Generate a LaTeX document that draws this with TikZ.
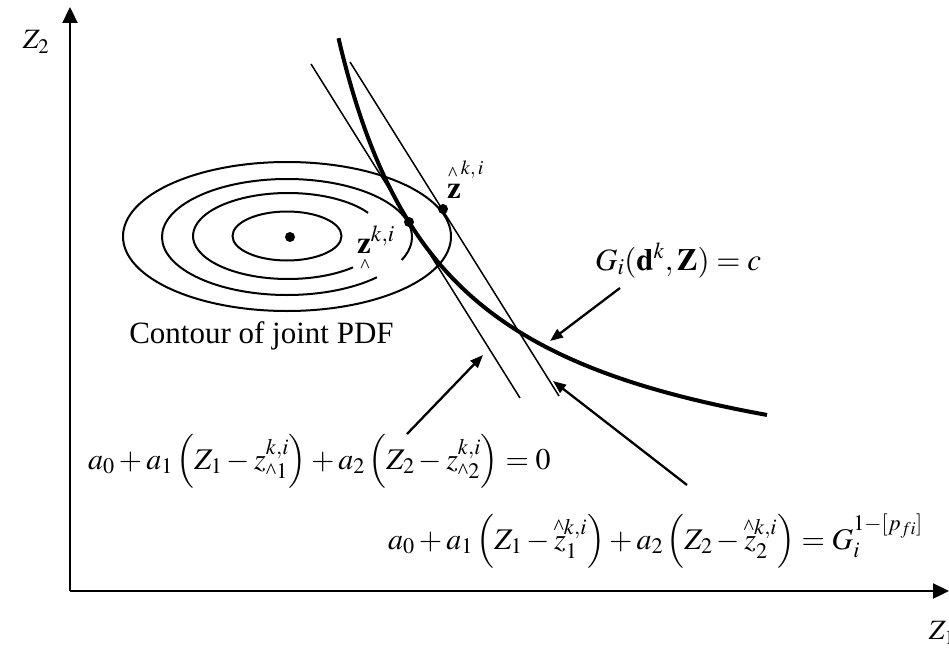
\documentclass[tikz,border=0pt]{standalone}
\usepackage{amsmath}
\usepackage{mathptmx}
\usepackage[no-math]{fontspec}
\setmainfont{Liberation Serif}
\usetikzlibrary{arrows.meta}
\newcommand\crt{\text{\^{}}}
\begin{document}
\begin{tikzpicture}[x=1pt,y=-1pt,
  axis/.style={line width=2.3pt,-{Triangle[length=16pt,width=15pt]}},
  contour/.style={line width=2pt},
  tang/.style={line width=1.5pt},
  limitcurve/.style={line width=4pt},
  pointer/.style={line width=2.3pt,-{Triangle[length=13pt,width=10pt]}},
  dot/.style={circle,fill=black,inner sep=0pt,minimum size=10pt},
  lbl/.style={inner sep=0pt,font=\fontsize{31}{37}\selectfont},
  eqlbl/.style={inner sep=0pt,font=\fontsize{30}{36}\selectfont},
  axlbl/.style={inner sep=0pt,font=\fontsize{28}{33}\selectfont},
  sup/.style={inner sep=0pt,font=\fontsize{20}{24}\selectfont}]
\useasboundingbox[fill=white] (0,0) rectangle (949,650);

% axes
\coordinate (O) at (70,591);
\coordinate (ytip) at (70,7);
\coordinate (xtip) at (949,591);
\draw[axis] (O) -- (ytip);
\draw[axis] (O) -- (xtip);
\node[axlbl] (z2lab) at (36,42) {$Z_2$};
\node[axlbl] (z1lab) at (942,633) {$Z_1$};

% contours
\draw[contour] (287,236.5) ellipse [x radius=164, y radius=74.5];
\draw[contour] ([shift={(44:125 and 58)}]287,237) arc[start angle=44, end angle=383.4, x radius=125, y radius=58];
\draw[contour] ([shift={(46.8:95 and 43)}]288,236) arc[start angle=46.8, end angle=327.4, x radius=95, y radius=43];
\draw[contour] (287,236) ellipse [x radius=54.5, y radius=24.5];
\node[dot] (ctr) at (290,237) {};

% tangent lines
\coordinate (l1a) at (311,64);
\coordinate (l1b) at (520,398);
\coordinate (l2a) at (350,62);
\coordinate (l2b) at (559,396);
\draw[tang] (l1a) -- (l1b);
\draw[tang] (l2a) -- (l2b);

% limit state curve G_i = c
\draw[limitcurve] plot[domain=338.5:767, samples=200] (\x, {513 - 529.41/((\x-227)/100)});

\node[dot] (t1) at (409,222) {};
\node[dot] (t2) at (443,209) {};

% point labels
\node[lbl,anchor=base] (zu) at (454,198) {$\mathbf{z}$};
\node[sup,anchor=base west] (zus) at (448,174) {\raisebox{-0.3em}{\^{}}\,$k,i$};
\node[lbl,anchor=base west] (zl) at (357,253) {$\mathbf{z}^{k,i}$};
\node[sup,anchor=north] (zlc) at (365,259) {\^{}};

% texts
\node[lbl,anchor=base] (clab) at (261.5,343) {Contour of joint PDF};
\node[lbl,anchor=base west] (glab) at (595,270) {$G_i(\mathbf{d}^k,\mathbf{Z})=c$};
\node[eqlbl,anchor=base west] (eqa) at (88,469) {$a_0+a_1\left(Z_1-z^{k,i}_{\crt 1}\right)+a_2\left(Z_2-z^{k,i}_{\crt 2}\right)=0$};
\node[eqlbl,anchor=base west] (eqb) at (388,549) {$a_0+a_1\left(Z_1-z^{\mkern-10mu\crt k,i}_{1}\right)+a_2\left(Z_2-z^{\mkern-10mu\crt k,i}_{2}\right)=G_i^{1-[p_{fi}]}$};

% pointers
\coordinate (p1t) at (407,434);
\coordinate (p1h) at (483,355);
\coordinate (p2t) at (687,485);
\coordinate (p2h) at (553,381);
\coordinate (p3t) at (620,288);
\coordinate (p3h) at (550,341);
\draw[pointer] (p1t) -- (p1h);
\draw[pointer] (p2t) -- (p2h);
\draw[pointer] (p3t) -- (p3h);
\end{tikzpicture}
\end{document}
